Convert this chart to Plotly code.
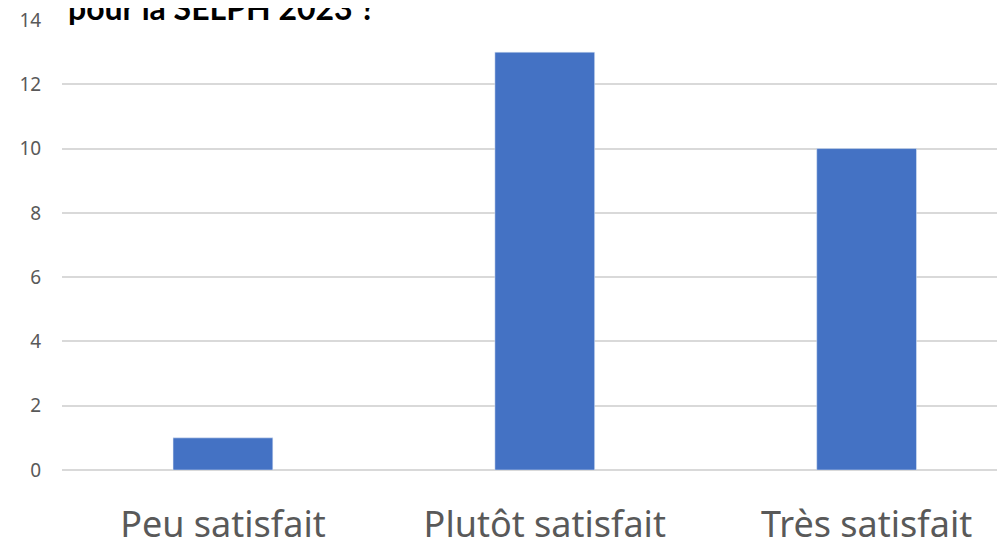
import plotly.graph_objects as go

# Data
categories = ["Peu satisfait", "Plutôt satisfait", "Très satisfait"]
counts = [1, 13, 10]
y_ticks = [0, 2, 4, 6, 8, 10, 12, 14]

fig = go.Figure(
    go.Bar(
        x=categories,
        y=counts,
        marker_color="#4472C4",
        width=0.31,
    )
)

# white box behind the (cropped) title
fig.add_shape(
    type="rect", xref="paper", yref="paper",
    x0=-0.013, x1=0.672, y0=0.982, y1=1.1,
    fillcolor="white", line_width=0, layer="above",
)

fig.add_annotation(
    text="<b>pour la SELPH 2023 ?</b>",
    xref="paper", yref="paper", x=0.004, y=1.0,
    xanchor="left", yanchor="bottom", yshift=-9,
    showarrow=False,
    font=dict(family="Lato", size=32, color="black"),
)

# page body adds 8px, so the figure is 8px smaller
fig.update_layout(
    width=997, height=535,
    margin=dict(l=54, r=0, t=12, b=73),
    paper_bgcolor="white", plot_bgcolor="white",
    showlegend=False,
    font=dict(family="Lato", color="#595959"),
)

fig.update_xaxes(
    range=[-0.5, 2.43],
    tickfont=dict(family="Noto Sans", size=36, color="#595959"),
    ticks="outside", ticklen=23, tickcolor="white",
    showline=False, showgrid=False, automargin=False,
    ticklabeloverflow="allow",
)

fig.update_yaxes(
    range=[0, 14],
    tickvals=y_ticks,
    tickfont=dict(family="Noto Sans", size=19, color="#595959"),
    showgrid=True, gridcolor="#D9D9D9", gridwidth=2,
    zeroline=True, zerolinecolor="#D9D9D9", zerolinewidth=2,
    ticks="outside", ticklen=16, tickcolor="white",
    automargin=False, ticklabeloverflow="allow",
)

fig.write_html("out.html")
